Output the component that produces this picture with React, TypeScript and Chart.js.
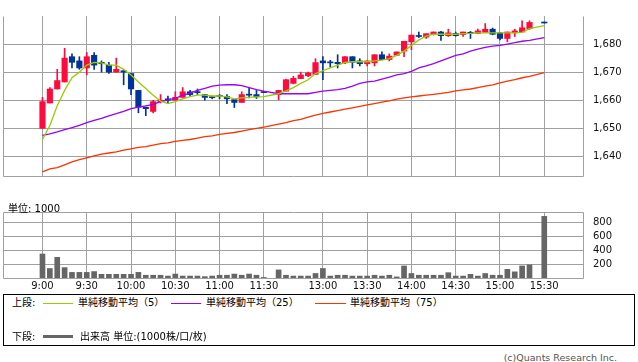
import { useEffect, useRef } from 'react';
import { Chart, registerables } from 'chart.js';

Chart.register(...registerables);

const FONT = "'DejaVu Sans', 'Noto Sans CJK JP', sans-serif";
const GRID = '#a0a0a0';
const UP = '#ff0a3c';
const DOWN = '#003399';
const MA5_COLOR = '#99cc00';
const MA25_COLOR = '#9900ff';
const MA75_COLOR = '#ff3300';
const VOL_COLOR = '#666666';

// 5-minute slots: 0 = 9:00 ... 30 = 11:30, 31 = lunch gap, 32 = 12:30 ... 68 = 15:30 (67 = no trade)
const tickSlots = [0, 6, 12, 18, 24, 30, 38, 44, 50, 56, 62, 68];
const tickLabels = ['9:00', '9:30', '10:00', '10:30', '11:00', '11:30', '13:00', '13:30', '14:00', '14:30', '15:00', '15:30'];
const priceTicks = [1640, 1650, 1660, 1670, 1680];
const volTicks = [200, 400, 600, 800];

const opens = [
  1650, 1659, 1664, 1666.5, 1675.5, 1674, 1671.5, 1676, 1673.5, 1672.5,
  1670, 1670.5, 1669.5, 1663.5, 1657.5, 1656, 1659.5, 1660.5, 1660, 1661,
  1663, 1662.8, 1662, 1661, 1661.7, 1661.3, 1660.2, 1659.2, 1662, 1662,
  1662.7, null, 1662, 1663.2, 1666, 1667.7, 1668.7, 1669.2, 1674, 1673.5,
  1673.5, 1673.3, 1675.5, 1674, 1673, 1673.3, 1676.2, 1674.5, 1676, 1677.5,
  1680.8, 1682.9, 1682.5, 1683.4, 1684.3, 1683, 1683.8, 1683.4, 1684.2, 1683.8,
  1684.2, 1685.3, 1684, 1682, 1684, 1684.3, 1685.5, null, 1687.5,
];
const highs = [
  1661, 1664.5, 1671, 1678.5, 1676.5, 1675.5, 1677, 1677, 1674, 1673.5,
  1675, 1670.5, 1669.5, 1663.5, 1657.5, 1660, 1662, 1661.5, 1663, 1664.5,
  1663.5, 1664, 1662, 1661.5, 1662, 1662, 1660.2, 1663, 1664.2, 1663.5,
  1662.7, null, 1663.5, 1667.5, 1668.5, 1670, 1670, 1674.8, 1675.5, 1674.2,
  1676.2, 1675.5, 1675.5, 1674.8, 1674, 1676.2, 1677.2, 1676.5, 1677.2, 1681,
  1683.2, 1684.3, 1683.7, 1684.3, 1684.5, 1685.3, 1684.3, 1684.3, 1684.5, 1685.3,
  1687.3, 1685.7, 1684.2, 1684.3, 1685.3, 1688.3, 1688.3, null, 1687.5,
];
const lows = [
  1650, 1659, 1664, 1666.5, 1671.5, 1671, 1669, 1671, 1670, 1669.5,
  1670, 1665.5, 1662, 1655.5, 1654.5, 1655.5, 1659, 1659, 1660, 1661,
  1661.5, 1662, 1660, 1660.5, 1660.5, 1658.8, 1657.4, 1659.2, 1660.8, 1660.6,
  1662.7, null, 1660.2, 1663.2, 1665.8, 1667.7, 1668.4, 1669.2, 1667.3, 1671.8,
  1671.5, 1673, 1671.5, 1672.2, 1672.2, 1672.2, 1674.5, 1674, 1676, 1675.5,
  1678, 1682.3, 1682, 1683.2, 1681.3, 1682.7, 1682.8, 1682.7, 1682, 1683.8,
  1684.2, 1683.3, 1681.5, 1680.8, 1682.7, 1684.3, 1685.2, null, 1687.5,
];
const closes = [
  1659.5, 1664, 1667, 1675, 1673.5, 1671.5, 1675.5, 1672.5, 1673, 1670,
  1671, 1670, 1664, 1657.5, 1657, 1659.5, 1660, 1660, 1661, 1663,
  1662, 1662.7, 1661, 1660.9, 1661.3, 1660.5, 1659.2, 1662, 1661.8, 1661.2,
  1662.7, null, 1663.5, 1667.3, 1667.8, 1669, 1669.7, 1673.4, 1673.3, 1673.3,
  1673, 1675.5, 1673.5, 1673, 1674, 1676.2, 1674.5, 1675.7, 1677.2, 1681,
  1683.2, 1682.7, 1683.7, 1684.3, 1683, 1684, 1683, 1684.3, 1683.7, 1684.7,
  1685.3, 1683.5, 1682, 1684.3, 1684.7, 1685.8, 1687.7, null, 1687.5,
];
const ma5 = [
  1646, 1651, 1658, 1663.5, 1668, 1670, 1672.5, 1673.5, 1673.3, 1672.5,
  1672.5, 1671, 1669, 1666.5, 1664.2, 1661.8, 1659.7, 1658.8, 1659.5, 1660.5,
  1661.3, 1661.8, 1661.8, 1661.5, 1661.5, 1661.2, 1660.5, 1660.8, 1661, 1661.2,
  1661.3, null, 1662.3, 1663.3, 1664.5, 1666, 1667.3, 1669.5, 1670.5, 1671.5,
  1672.5, 1673.5, 1673.7, 1673.7, 1673.7, 1674, 1674.3, 1674.8, 1676, 1677.5,
  1679.5, 1681.5, 1682.8, 1683.5, 1683.5, 1683.5, 1683.5, 1683.7, 1683.8, 1684,
  1684, 1684, 1684, 1684, 1684, 1684.2, 1685.5, null, 1686.6,
];
const ma25 = [
  1647.5, 1648, 1648.7, 1649.5, 1650.2, 1651, 1652, 1652.8, 1653.5, 1654.4,
  1655.2, 1656, 1657, 1657.5, 1658, 1658.5, 1659.5, 1660, 1660.7, 1661.7,
  1662.5, 1663.5, 1664.2, 1665, 1665.4, 1665.5, 1665.5, 1665.2, 1664.5, 1663.8,
  1663.2, null, 1662.3, 1662.3, 1662.3, 1662.3, 1662.3, 1662.8, 1663.2, 1663.5,
  1663.8, 1664.2, 1665, 1666, 1666.5, 1666.8, 1667.5, 1668.2, 1669, 1669.5,
  1670.3, 1671.5, 1672.2, 1673, 1674, 1675, 1676, 1676.5, 1677.5, 1678.2,
  1678.8, 1679.3, 1679.5, 1680, 1680.5, 1681, 1681.3, null, 1682.3,
];
const ma75 = [
  1634.5, 1635.5, 1636, 1637, 1638, 1638.8, 1639.5, 1640.2, 1640.8, 1641.2,
  1641.6, 1642.2, 1642.7, 1643.2, 1643.5, 1644, 1644.5, 1644.8, 1645.3, 1645.7,
  1646, 1646.5, 1647, 1647.3, 1647.8, 1648.2, 1648.5, 1649, 1649.5, 1650,
  1650.4, null, 1651.5, 1652, 1652.7, 1653.2, 1654, 1654.7, 1655.3, 1655.8,
  1656.3, 1656.8, 1657.3, 1657.8, 1658.3, 1658.8, 1659.3, 1659.8, 1660.4, 1660.8,
  1661.2, 1661.5, 1661.8, 1662.1, 1662.4, 1662.8, 1663.3, 1663.7, 1664, 1664.5,
  1665, 1665.5, 1666.2, 1666.8, 1667.3, 1668, 1668.5, null, 1669.8,
];
const volumes = [
  347, 137, 299, 150, 81, 81, 81, 93, 53, 53,
  53, 53, 53, 81, 40, 40, 40, 28, 57, 28,
  28, 28, 20, 28, 40, 40, 57, 40, 57, 40,
  8, null, 117, 40, 28, 28, 28, 65, 137, 28,
  40, 40, 28, 28, 28, 40, 28, 40, 16, 174,
  65, 40, 40, 40, 40, 77, 28, 28, 53, 28,
  65, 40, 40, 125, 89, 174, 190, null, 890,
];

const X_MIN = -5.35;
const X_MAX = 73.25;

const frame = (drawTop: boolean) => ({
  id: 'frame',
  beforeDatasetsDraw(chart: any) {
    const { ctx, chartArea } = chart;
    const l = Math.round(chartArea.left) + 0.5;
    const r = Math.round(chartArea.right) + 0.5;
    const t = Math.round(chartArea.top) + 0.5;
    const b = Math.round(chartArea.bottom) + 0.5;
    ctx.save();
    ctx.strokeStyle = GRID;
    ctx.lineWidth = 1;
    ctx.beginPath();
    ctx.moveTo(l, t);
    ctx.lineTo(l, b);
    ctx.lineTo(r, b);
    ctx.lineTo(r, t);
    if (drawTop) ctx.lineTo(l, t);
    ctx.stroke();
    ctx.restore();
  },
});

const xScale = (showLabels: boolean, height: number) => ({
  type: 'linear' as const,
  min: X_MIN,
  max: X_MAX,
  offset: false,
  afterBuildTicks: (s: any) => {
    s.ticks = tickSlots.map((v) => ({ value: v }));
  },
  afterFit: (s: any) => {
    s.height = height;
  },
  ticks: {
    display: showLabels,
    autoSkip: false,
    maxRotation: 0,
    padding: 2,
    color: '#111',
    font: { family: FONT, size: 10 },
    callback: (v: any) => {
      const k = tickSlots.indexOf(v);
      return k >= 0 ? tickLabels[k] : '';
    },
  },
  grid: { color: GRID, drawTicks: false, offset: false },
  border: { display: false },
});

const yScale = (min: number, max: number, ticks: number[], fmt: (v: number) => string) => ({
  type: 'linear' as const,
  position: 'right' as const,
  min,
  max,
  afterBuildTicks: (s: any) => {
    s.ticks = ticks.map((v) => ({ value: v }));
  },
  afterFit: (s: any) => {
    s.width = 55;
  },
  ticks: {
    padding: 10,
    color: '#111',
    font: { family: FONT, size: 10 },
    callback: (v: any) => fmt(Number(v)),
  },
  grid: { color: GRID, drawTicks: false },
  border: { display: false },
});

export default function App() {
  const priceRef = useRef<HTMLCanvasElement>(null);
  const volRef = useRef<HTMLCanvasElement>(null);

  useEffect(() => {
    const idx = opens.map((_, i) => i).filter((i) => opens[i] !== null);
    const colors = idx.map((i) => ((closes[i] as number) > (opens[i] as number) ? UP : DOWN));
    const line = (label: string, vals: (number | null)[], color: string) => ({
      type: 'line' as const,
      label,
      data: idx.map((i) => ({ x: i, y: vals[i] })),
      borderColor: color,
      borderWidth: 1.3,
      pointRadius: 0,
      tension: 0,
      order: 0,
    });

    const priceChart = new Chart(priceRef.current!, {
      type: 'bar',
      data: {
        datasets: [
          line('単純移動平均(5)', ma5, MA5_COLOR),
          line('単純移動平均(25)', ma25, MA25_COLOR),
          line('単純移動平均(75)', ma75, MA75_COLOR),
          {
            type: 'bar',
            label: 'body',
            data: idx.map((i) => ({ x: i, y: [opens[i], closes[i]] })) as any,
            backgroundColor: colors,
            barThickness: 5.5,
            minBarLength: 1,
            grouped: false,
            order: 1,
          },
          {
            type: 'bar',
            label: 'wick',
            data: idx.map((i) => ({ x: i, y: [lows[i], highs[i]] })) as any,
            backgroundColor: colors,
            barThickness: 1,
            minBarLength: 1,
            grouped: false,
            order: 2,
          },
        ],
      },
      options: {
        animation: false,
        responsive: false,
        events: [],
        layout: { padding: { left: 3, top: 0, right: 0, bottom: 2 } },
        plugins: { legend: { display: false }, tooltip: { enabled: false } },
        scales: {
          x: xScale(false, 0) as any,
          y: yScale(1633, 1690, priceTicks, (v) => v.toLocaleString('en-US')) as any,
        },
      },
      plugins: [frame(false)],
    });

    const volChart = new Chart(volRef.current!, {
      type: 'bar',
      data: {
        datasets: [
          {
            label: '出来高',
            data: idx.map((i) => ({ x: i, y: volumes[i] })) as any,
            backgroundColor: VOL_COLOR,
            barThickness: 5,
            grouped: false,
          },
        ],
      },
      options: {
        animation: false,
        responsive: false,
        events: [],
        layout: { padding: { left: 3, top: 5, right: 0, bottom: 0 } },
        plugins: { legend: { display: false }, tooltip: { enabled: false } },
        scales: {
          x: xScale(true, 13.5) as any,
          y: yScale(0, 953, volTicks, (v) => String(v)) as any,
        },
      },
      plugins: [frame(true)],
    });

    return () => {
      priceChart.destroy();
      volChart.destroy();
    };
  }, []);

  const text = { position: 'absolute' as const, lineHeight: '12px', whiteSpace: 'nowrap' as const };
  const swatch = (left: number, top: number, width: number, height: number, color: string) => (
    <div style={{ position: 'absolute', left, top, width, height, background: color }} />
  );

  return (
    <div
      style={{
        position: 'absolute',
        left: 0,
        top: 0,
        width: 638,
        height: 362,
        overflow: 'hidden',
        background: '#fff',
        fontFamily: FONT,
        fontSize: 10,
        color: '#000',
      }}
    >
      <canvas ref={priceRef} width={638} height={192} style={{ position: 'absolute', left: 0, top: 0, width: 638, height: 192 }} />
      <canvas ref={volRef} width={638} height={98} style={{ position: 'absolute', left: 0, top: 196, width: 638, height: 98 }} />
      <div style={{ ...text, left: 8, top: 203 }}>単位: 1000</div>

      <div
        style={{
          position: 'absolute',
          left: 3,
          top: 294,
          width: 632,
          height: 52,
          border: '1px solid #000',
          boxSizing: 'border-box',
        }}
      />
      <div style={{ ...text, left: 12, top: 297 }}>上段:</div>
      {swatch(43, 303, 30, 1, MA5_COLOR)}
      <div style={{ ...text, left: 78, top: 297 }}>単純移動平均（5）</div>
      {swatch(171, 303, 30, 1, MA25_COLOR)}
      <div style={{ ...text, left: 206, top: 297 }}>単純移動平均（25）</div>
      {swatch(315, 303, 31, 1, MA75_COLOR)}
      <div style={{ ...text, left: 350, top: 297 }}>単純移動平均（75）</div>

      <div style={{ ...text, left: 12, top: 331 }}>下段:</div>
      {swatch(43, 335, 30, 3, VOL_COLOR)}
      <div style={{ ...text, left: 80, top: 331 }}>出来高 単位:(1000株/口/枚)</div>

      <div style={{ ...text, right: 21, top: 352, fontSize: 9.5, color: '#555' }}>(c)Quants Research Inc.</div>
    </div>
  );
}
